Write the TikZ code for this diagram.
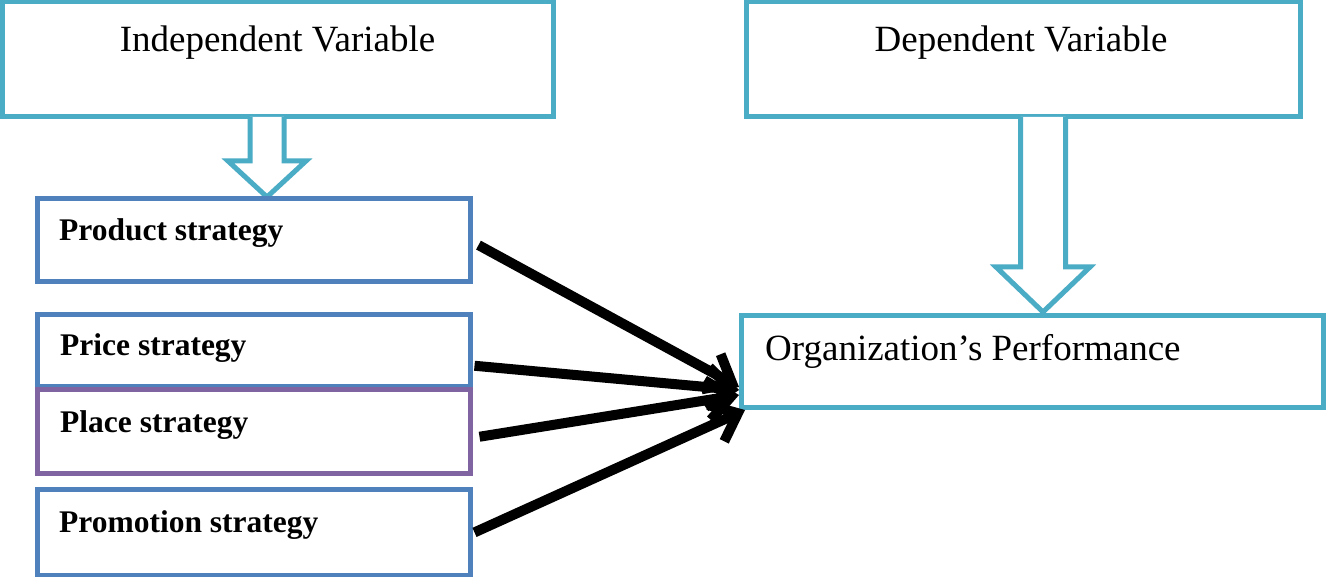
\documentclass[tikz,border=0pt]{standalone}
\usepackage{fontspec}
\setmainfont{Liberation Serif}
\usetikzlibrary{arrows.meta,calc}
\definecolor{lblue}{HTML}{4BACC6}
\definecolor{dblue}{HTML}{4F81BD}
\definecolor{purp}{HTML}{8064A2}
\begin{document}
\begin{tikzpicture}[x=1pt,y=-1pt,
  box/.style={draw,rectangle,line width=5pt,inner sep=0pt,fill=white},
  headtext/.style={inner sep=0pt,font=\fontsize{37}{44}\selectfont},
  boldtext/.style={inner sep=0pt,anchor=base west,font=\fontsize{31.5}{38}\selectfont\bfseries},
  hollow/.style={draw=lblue,line width=5pt,fill=white,line join=miter},
  conn/.style={line width=10pt,-{Straight Barb[length=24pt,width=40pt]}}]
\useasboundingbox (0,0) rectangle (1326,577);
\fill[white] (0,0) rectangle (1326,577);
% top boxes
\node[box,draw=lblue,minimum width=551pt,minimum height=115pt] (iv) at (277.5,59.5) {};
\node[box,draw=lblue,minimum width=554pt,minimum height=115pt] (dv) at (1023,59.5) {};
\node[headtext,anchor=base] (ivt) at (277.5,52) {Independent Variable};
\node[headtext,anchor=base] (dvt) at (1021,52) {Dependent Variable};
% hollow arrows
\draw[hollow] (250,117) -- (250,161) -- (228,161) -- (267,197) -- (306,161) -- (284,161) -- (284,117);
\draw[hollow] (1020.5,117) -- (1020.5,267) -- (996,267) -- (1043,312) -- (1090,267) -- (1065.5,267) -- (1065.5,117);
% strategy boxes
\node[box,draw=dblue,minimum width=432.5pt,minimum height=83.2pt] (prod) at (253.75,240.1) {};
\node[box,draw=dblue,minimum width=432.5pt,minimum height=72.5pt] (price) at (253.75,350.75) {};
\node[box,draw=purp,minimum width=432.5pt,minimum height=83.5pt] (place) at (253.75,431.75) {};
\node[box,draw=dblue,minimum width=432.5pt,minimum height=85.2pt] (promo) at (253.75,532.4) {};
\node[boldtext] (prodt) at (59,241) {Product strategy};
\node[boldtext] (pricet) at (60,356) {Price strategy};
\node[boldtext] (placet) at (60,432) {Place strategy};
\node[boldtext] (promot) at (59,532) {Promotion strategy};
% organization box
\node[box,draw=lblue,minimum width=582pt,minimum height=92pt] (org) at (1032,361.5) {};
\node[headtext,anchor=base west] (orgt) at (765,361) {Organization’s Performance};
% connectors
\coordinate (e1) at (739,387);
\coordinate (e2) at (739,390);
\coordinate (e3) at (739,395);
\coordinate (e4) at (745,410);
\draw[conn] ($(prod.east)+(6,5)$) -- (e1);
\draw[conn] ($(price.east)+(2,15)$) -- (e2);
\draw[conn] ($(place.east)+(7,5)$) -- (e3);
\draw[conn] ($(promo.east)+(2,0)$) -- (e4);
\end{tikzpicture}
\end{document}
